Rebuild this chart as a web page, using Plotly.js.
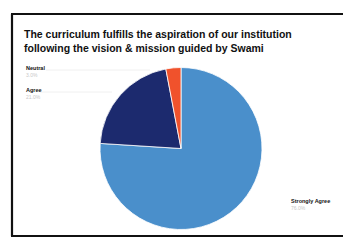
<!DOCTYPE html>
<html>
<head>
<meta charset="utf-8">
<script src="https://cdn.plot.ly/plotly-3.0.1.min.js"></script>
<style>html,body{margin:0;padding:0;background:#fff;}#chart{width:343px;height:242px;}</style>
</head>
<body>
<div id="chart"></div>
<script>
const categories = ["Strongly Agree", "Agree", "Neutral"];
const values = [76, 21, 3];
const colors = ["#4a8fcb", "#1c2a6e", "#f0522c"];
const valueLabels = values.map(v => v.toFixed(1) + "%");

const W = 343, H = 242;
const px = x => x / W;
const py = y => 1 - y / H;

const trace = {
  type: "pie",
  labels: categories,
  values: values,
  sort: false,
  direction: "clockwise",
  rotation: 0,
  textinfo: "none",
  hoverinfo: "label+percent",
  marker: { colors: colors, line: { color: "#ffffff", width: 0.8 } },
  domain: { x: [px(100), px(262)], y: [py(230), py(67)] },
  showlegend: false
};

const labelFont = { family: "Liberation Sans, Arial, sans-serif", size: 5.5, color: "#111" };
const valFont = { family: "Liberation Sans, Arial, sans-serif", size: 5, color: "#c8c8c8" };

const annotations = [
  { text: "<b>" + categories[2] + "</b>", x: px(24), y: py(68), xanchor: "left", yanchor: "middle", font: labelFont },
  { text: valueLabels[2], x: px(24), y: py(75), xanchor: "left", yanchor: "middle", font: valFont },
  { text: "<b>" + categories[1] + "</b>", x: px(24), y: py(90), xanchor: "left", yanchor: "middle", font: labelFont },
  { text: valueLabels[1], x: px(24), y: py(97), xanchor: "left", yanchor: "middle", font: valFont },
  { text: "<b>" + categories[0] + "</b>", x: px(289), y: py(201), xanchor: "left", yanchor: "middle", font: labelFont },
  { text: valueLabels[0], x: px(289), y: py(208), xanchor: "left", yanchor: "middle", font: valFont }
].map(a => Object.assign({ xref: "paper", yref: "paper", showarrow: false }, a));

const frame = { color: "#111", width: 2.2 };
const shapes = [
  { type: "line", xref: "paper", yref: "paper", x0: px(12), x1: px(12), y0: py(236), y1: py(14), line: frame },
  { type: "line", xref: "paper", yref: "paper", x0: px(11), x1: px(343), y0: py(14), y1: py(14), line: frame },
  { type: "line", xref: "paper", yref: "paper", x0: px(11), x1: px(343), y0: py(236), y1: py(236), line: frame },
  { type: "line", xref: "paper", yref: "paper", x0: px(46), x1: px(150), y0: py(70), y1: py(70), line: { color: "#ececec", width: 0.8 } },
  { type: "line", xref: "paper", yref: "paper", x0: px(40), x1: px(112), y0: py(92), y1: py(92), line: { color: "#ececec", width: 0.8 } }
];

const layout = {
  width: W, height: H,
  margin: { l: 0, r: 0, t: 0, b: 0 },
  paper_bgcolor: "#ffffff",
  title: {
    text: "The curriculum fulfills the aspiration of our institution<br>following the vision &amp; mission guided by Swami",
    x: px(24), xanchor: "left", xref: "paper",
    y: 1 - 38 / H, yanchor: "top", yref: "container",
    font: { family: "Liberation Sans, Arial, sans-serif", size: 10.5, color: "#111", weight: "bold" }
  },
  annotations: annotations,
  shapes: shapes
};

Plotly.newPlot("chart", [trace], layout, { displayModeBar: false, staticPlot: true });
</script>
</body>
</html>
